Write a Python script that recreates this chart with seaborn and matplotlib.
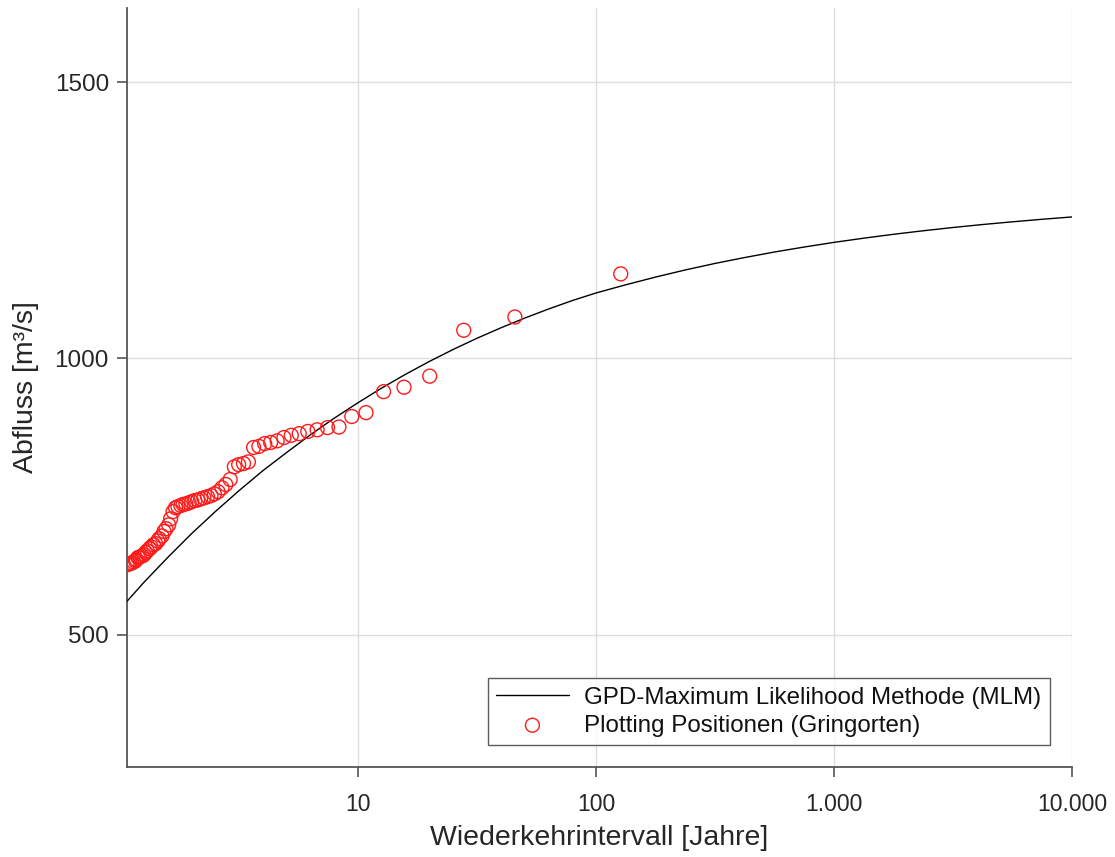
import numpy as np
import pandas as pd
import matplotlib
matplotlib.use("Agg")
import matplotlib.pyplot as plt
import seaborn as sns
from matplotlib.ticker import FixedLocator, FixedFormatter, NullLocator

# Fitted GPD (maximum likelihood) return level curve
curve_T = [1.07, 1.259, 1.585, 1.995, 2.512, 3.162, 3.981, 5.012, 6.31, 7.943,
           10.0, 12.59, 15.85, 19.95, 25.12, 31.62, 39.81, 50.12, 63.1, 79.43,
           100.0, 133.4, 177.8, 237.1, 316.2, 421.7, 562.3, 749.9,
           1000.0, 1334.0, 1778.0, 2371.0, 3162.0, 4217.0, 5623.0, 7499.0, 10000.0]
curve_Q = [561, 595, 640, 683, 723, 761, 797, 830, 862, 892,
           920, 946.7, 971.5, 994.7, 1016.4, 1036.6, 1055.4, 1073.0, 1089.4, 1104.7,
           1118.5, 1133.3, 1147.2, 1160.1, 1171.9, 1182.6, 1192.6, 1201.6,
           1210.0, 1217.6, 1224.6, 1231.0, 1236.9, 1242.3, 1247.2, 1251.8, 1256.0]

# Observed annual peaks with Gringorten plotting positions (return period in years)
obs_T = [127.0, 45.6, 27.8, 20.0, 15.6, 12.8, 10.8, 9.41, 8.31, 7.44,
         6.73, 6.15, 5.66, 5.24, 4.88, 4.57, 4.29, 4.05, 3.83, 3.64,
         3.46, 3.30, 3.15, 3.02, 2.90, 2.78, 2.68, 2.58, 2.49, 2.41,
         2.33, 2.25, 2.18, 2.12, 2.06, 2.00, 1.95, 1.89, 1.84, 1.80,
         1.75, 1.71, 1.67, 1.63, 1.60, 1.56, 1.53, 1.50, 1.46, 1.44,
         1.41, 1.38, 1.35, 1.33, 1.30, 1.28, 1.26, 1.24, 1.21, 1.19,
         1.17, 1.16, 1.14, 1.12, 1.10, 1.085, 1.069]
obs_Q = [1153, 1075, 1051, 968, 948, 940, 902, 895, 876, 875,
         871, 868, 864, 861, 857, 851, 848, 846, 841, 839,
         813, 810, 808, 804, 781, 772, 766, 759, 755, 752,
         750, 748, 746, 744, 743, 741, 739, 737, 736, 734,
         732, 730, 723, 710, 699, 692, 687, 679, 674, 670,
         665, 663, 659, 656, 652, 649, 645, 643, 641, 640,
         636, 634, 632, 630, 629, 628, 627]

x_ticks = [10, 100, 1000, 10000]
x_tick_labels = ["10", "100", "1.000", "10.000"]
y_ticks = [500, 1000, 1500]
y_tick_labels = ["500", "1000", "1500"]

curve_df = pd.DataFrame({"T": curve_T, "Q": curve_Q})
obs_df = pd.DataFrame({"T": obs_T, "Q": obs_Q})

sns.set_theme(style="white")
plt.rcParams["font.family"] = ["Liberation Sans", "DejaVu Sans"]

text_col = "#262626"
axis_col = "#555555"

fig = plt.figure(figsize=(11.15, 8.57), dpi=100)
ax = fig.add_axes([0.1139, 0.105, 0.8475, 0.8857])

ax.set_xscale("log")
ax.set_xlim(1.069, 10000)
ax.set_ylim(261, 1634)

sns.lineplot(data=curve_df, x="T", y="Q", ax=ax, color="black", linewidth=1.0,
             label="GPD-Maximum Likelihood Methode (MLM)", sort=False, zorder=3)
sns.scatterplot(data=obs_df, x="T", y="Q", ax=ax, marker="o", s=100,
                facecolor="none", edgecolor="#ff1a1a", linewidth=1.0,
                label="Plotting Positionen (Gringorten)", zorder=4, clip_on=True)

ax.xaxis.set_major_locator(FixedLocator(x_ticks))
ax.xaxis.set_major_formatter(FixedFormatter(x_tick_labels))
ax.xaxis.set_minor_locator(NullLocator())
ax.yaxis.set_major_locator(FixedLocator(y_ticks))
ax.yaxis.set_major_formatter(FixedFormatter(y_tick_labels))

ax.grid(True, which="major", color="#dedede", linewidth=1.0)
ax.set_axisbelow(True)

for side in ["top", "right"]:
    ax.spines[side].set_visible(False)
for side in ["left", "bottom"]:
    ax.spines[side].set_color(axis_col)
    ax.spines[side].set_linewidth(1.3)

ax.tick_params(axis="both", direction="out", length=7, width=1.2,
               color=axis_col, labelcolor=text_col)
ax.tick_params(axis="x", labelsize=16.5, pad=12)
ax.tick_params(axis="y", labelsize=17.5, pad=6)
ax.tick_params(bottom=True, left=True, top=False, right=False)

ax.set_xlabel("Wiederkehrintervall [Jahre]", fontsize=20.5, color=text_col, labelpad=6)
ax.set_ylabel("Abfluss [m³/s]", fontsize=20.5, color=text_col, labelpad=11)

leg = ax.legend(loc="lower right", bbox_to_anchor=(0.9767, 0.029),
                borderaxespad=0, frameon=True, fancybox=False, fontsize=17.4,
                handlelength=3.0, handletextpad=0.65, labelspacing=0.25,
                borderpad=0.35, markerscale=1.0)
leg.get_frame().set_edgecolor("#333333")
leg.get_frame().set_linewidth(1.0)
for t in leg.get_texts():
    t.set_color("#111111")

fig.savefig("out.png", dpi=100, facecolor="white")
